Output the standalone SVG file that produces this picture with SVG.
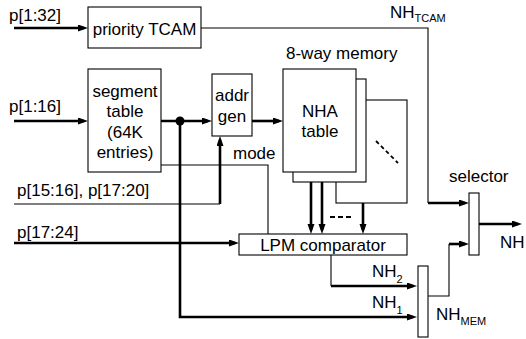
<svg xmlns="http://www.w3.org/2000/svg" width="526" height="339" viewBox="0 0 526 339">
<defs>
<marker id="ah" markerUnits="userSpaceOnUse" markerWidth="10" markerHeight="8" refX="6" refY="3.5" orient="auto">
<path d="M0,0 L10,3.5 L0,7 z" fill="#000"/>
</marker>
<style>
.box{fill:#fff;stroke:#000;stroke-width:1.1}
.t{font-family:"Liberation Sans",Arial,sans-serif;font-size:17px;fill:#000}
.s{font-size:11px}
.c{text-anchor:middle}
.thin{fill:none;stroke:#000;stroke-width:1.1}
.thick{fill:none;stroke:#000;stroke-width:2.6}
.arr{marker-end:url(#ah)}
</style>
</defs>
<rect width="526" height="339" fill="#fff"/>
<g id="connectors">
<path class="thick arr" d="M14,28 H84"/>
<path class="thin" d="M201,28 H428 V203"/>
<path class="thick arr" d="M428,203 H465"/>
<path class="thick arr" d="M14,121 H84"/>
<path class="thick arr" d="M161,121 H208"/>
<circle cx="180" cy="121" r="4.5" fill="#000"/>
<path class="thick arr" d="M252,121 H279"/>
<path class="thick arr" d="M180,121 V317 H413"/>
<path class="thin" d="M14,204 H220"/>
<path class="thick arr" d="M220,204 V140"/>
<path class="thin" d="M161,165 H268 V234"/>
<path class="thick arr" d="M14,243 H235"/>
<path class="thick arr" d="M311,172 V230"/>
<path class="thick arr" d="M322,182 V230"/>
<path class="thick arr" d="M363,203 V230"/>
<path d="M330,217 H352" stroke="#000" stroke-width="2" stroke-dasharray="5,3" fill="none"/>
<path class="thin" d="M331,255 V286"/>
<path class="thick arr" d="M331,286 H413"/>
<path class="thin" d="M428,296 H449 V244"/>
<path class="thick arr" d="M449,244 H465"/>
<path class="thick arr" d="M479,224 H518"/>
</g>
<g id="tcam">
<rect class="box" x="88" y="7" width="113" height="41"/>
<text class="t c" x="144.5" y="35">priority TCAM</text>
</g>
<g id="segment">
<rect class="box" x="88" y="69" width="73" height="103"/>
<text class="t c" x="125" y="97">segment</text>
<text class="t c" x="125" y="117">table</text>
<text class="t c" x="125" y="138">(64K</text>
<text class="t c" x="125" y="158">entries)</text>
</g>
<g id="addrgen">
<rect class="box" x="212" y="74" width="40" height="62"/>
<text class="t c" x="232" y="101">addr</text>
<text class="t c" x="232" y="122">gen</text>
</g>
<g id="nha">
<rect class="box" x="336" y="100" width="71" height="103"/>
<path d="M376,141 L398,163" stroke="#000" stroke-width="1.8" stroke-dasharray="4,3" fill="none"/>
<rect class="box" x="293" y="79" width="73" height="103"/>
<rect class="box" x="283" y="69" width="73" height="103"/>
<text class="t c" x="320" y="117">NHA</text>
<text class="t c" x="320" y="137">table</text>
</g>
<g id="lpm">
<rect class="box" x="239" y="234" width="168" height="21"/>
<text class="t c" x="323" y="251">LPM comparator</text>
</g>
<g id="mux">
<rect class="box" x="418" y="266" width="10" height="71"/>
</g>
<g id="selector">
<rect class="box" x="469" y="193" width="10" height="62"/>
</g>
<g id="labels">
<text class="t" x="9" y="21">p[1:32]</text>
<text class="t" x="9" y="112">p[1:16]</text>
<text class="t" x="17" y="196">p[15:16], p[17:20]</text>
<text class="t" x="17" y="238">p[17:24]</text>
<text class="t" x="390" y="18">NH<tspan class="s" dy="4">TCAM</tspan></text>
<text class="t" x="286" y="59">8-way memory</text>
<text class="t" x="233" y="159">mode</text>
<text class="t" x="449" y="182">selector</text>
<text class="t" x="500" y="248">NH</text>
<text class="t" x="372" y="277">NH<tspan class="s" dy="6">2</tspan></text>
<text class="t" x="372" y="308">NH<tspan class="s" dy="6">1</tspan></text>
<text class="t" x="436" y="320">NH<tspan class="s" dy="5">MEM</tspan></text>
</g>
</svg>
